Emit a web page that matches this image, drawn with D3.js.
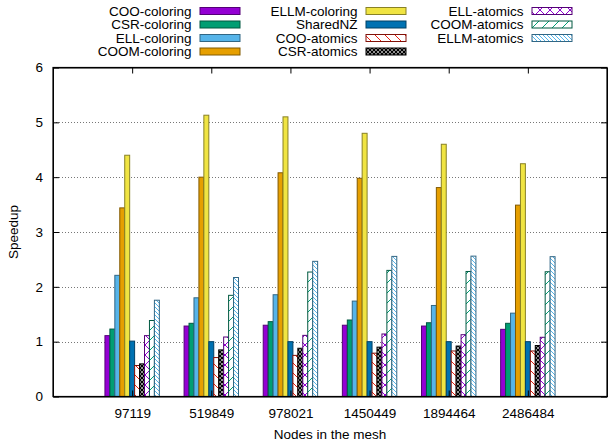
<!DOCTYPE html>
<html>
<head>
<meta charset="utf-8">
<script src="https://cdn.jsdelivr.net/npm/d3@7"></script>
<style>
  body { margin: 0; background: #fff; }
  text { font-family: "Liberation Sans", Arial, sans-serif; }
</style>
</head>
<body>
<div id="chart"></div>
<script>
// data
var groups = ["97119", "519849", "978021", "1450449", "1894464", "2486484"];
var seriesNames = ["COO-coloring", "CSR-coloring", "ELL-coloring", "COOM-coloring", "ELLM-coloring",
  "SharedNZ", "COO-atomics", "CSR-atomics", "ELL-atomics", "COOM-atomics", "ELLM-atomics"];
var seriesColors = ["#9400d3", "#009e73", "#56b4e9", "#e69f00", "#f0e442",
  "#0072b2", "#e51e10", "#000000", "#9400d3", "#009e73", "#56b4e9"];
// fill style per series: solid or a pattern id
var seriesFill = ["solid", "solid", "solid", "solid", "solid",
  "solid", "sparseBack", "denseCross", "cross", "sparseFwd", "denseBack"];

var cooColoring = [1.11, 1.285, 1.30, 1.30, 1.285, 1.225];
var csrColoring = [1.23, 1.335, 1.365, 1.395, 1.345, 1.335];
var ellColoring = [2.21, 1.80, 1.856, 1.74, 1.66, 1.52];
var coomColoring = [3.44, 4.0, 4.08, 3.98, 3.81, 3.49];
var ellmColoring = [4.40, 5.13, 5.10, 4.80, 4.60, 4.245];
var sharedNZ = [1.01, 1.0, 1.0, 1.0, 1.0, 1.0];
var cooAtomics = [0.565, 0.71, 0.75, 0.79, 0.83, 0.83];
var csrAtomics = [0.595, 0.85, 0.88, 0.90, 0.92, 0.93];
var ellAtomics = [1.11, 1.085, 1.115, 1.14, 1.127, 1.08];
var coomAtomics = [1.386, 1.845, 2.27, 2.30, 2.28, 2.275];
var ellmAtomics = [1.756, 2.17, 2.465, 2.555, 2.56, 2.55];

var allValues = [cooColoring, csrColoring, ellColoring, coomColoring, ellmColoring, sharedNZ,
  cooAtomics, csrAtomics, ellAtomics, coomAtomics, ellmAtomics];

var yTicks = [0, 1, 2, 3, 4, 5, 6];

// dimensions (plot frame)
var W = 608, H = 444;
var plotL = 53, plotR = 607, plotT = 67.5, plotB = 396.5;

var svg = d3.select("#chart").append("svg")
  .attr("width", W).attr("height", H);

// patterns
var defs = svg.append("defs");
function makePattern(id, size, color, paths, sw) {
  var p = defs.append("pattern")
    .attr("id", id)
    .attr("patternUnits", "userSpaceOnUse")
    .attr("width", size).attr("height", size);
  p.append("rect").attr("width", size).attr("height", size).attr("fill", "#fff");
  paths.forEach(function (d) {
    p.append("path").attr("d", d).attr("stroke", color).attr("stroke-width", sw).attr("fill", "none");
  });
}
makePattern("sparseBack", 10, "#e51e10", ["M0,0L10,10", "M-5,5L5,15", "M5,-5L15,5"], 1);
makePattern("sparseFwd", 10, "#009e73", ["M0,10L10,0", "M-5,5L5,-5", "M5,15L15,5"], 1);
makePattern("denseBack", 4, "#56b4e9", ["M0,0L4,4", "M-2,2L2,6", "M2,-2L6,2"], 1);
makePattern("cross", 10, "#9400d3", ["M0,0L10,10", "M0,10L10,0"], 1);
makePattern("denseCross", 4, "#000", ["M0,0L4,4", "M0,4L4,0"], 1.3);

function fillOf(i) {
  return seriesFill[i] === "solid" ? seriesColors[i] : "url(#" + seriesFill[i] + ")";
}
function borderOf(i) {
  return d3.color(seriesColors[i]).darker(1.6).formatHex();
}

var x = d3.scaleLinear().domain([-1, 6]).range([plotL, plotR]);
var y = d3.scaleLinear().domain([0, 6]).range([plotB, plotT]);

var nSeries = seriesNames.length;
var barW = 1 / 16; // gnuplot clustered histogram, gap 5

// grid lines
svg.append("g")
  .selectAll("line")
  .data(yTicks.slice(1, -1))
  .enter()
  .append("line")
  .attr("x1", plotL).attr("x2", plotR)
  .attr("y1", function (d) { return Math.round(y(d)) + 0.5; })
  .attr("y2", function (d) { return Math.round(y(d)) + 0.5; })
  .attr("stroke", "#777")
  .attr("stroke-width", 1)
  .attr("stroke-dasharray", "1,2");

// bars
allValues.forEach(function (vals, s) {
  svg.append("g")
    .selectAll("rect")
    .data(vals)
    .enter()
    .append("rect")
    .attr("x", function (d, g) { return x(g - nSeries * barW / 2 + s * barW); })
    .attr("width", x(barW) - x(0))
    .attr("y", function (d) { return y(d); })
    .attr("height", function (d) { return y(0) - y(d); })
    .attr("fill", fillOf(s))
    .attr("stroke", borderOf(s))
    .attr("stroke-width", 1);
});

// axes
svg.append("g")
  .attr("transform", "translate(" + plotL + ",0)")
  .call(d3.axisLeft(y).tickValues(yTicks).tickFormat(d3.format("d")).tickSizeInner(-6).tickSizeOuter(0).tickPadding(10));
svg.append("g")
  .attr("transform", "translate(" + plotR + ",0)")
  .call(d3.axisRight(y).tickValues(yTicks).tickFormat("").tickSizeInner(-6).tickSizeOuter(0));
svg.append("g")
  .attr("transform", "translate(0," + plotB + ")")
  .call(d3.axisBottom(x).tickValues(d3.range(groups.length)).tickFormat(function (d) { return groups[d]; })
    .tickSizeInner(-6).tickSizeOuter(0).tickPadding(12));
svg.append("g")
  .attr("transform", "translate(0," + plotT + ")")
  .call(d3.axisTop(x).tickValues(d3.range(groups.length)).tickFormat("").tickSizeInner(-6).tickSizeOuter(0));

svg.selectAll(".tick text")
  .style("font-family", "Liberation Sans, Arial, sans-serif")
  .style("font-size", "13.5px")
  .attr("fill", "#000");
svg.selectAll(".domain").attr("stroke", "#000");

// frame
svg.append("rect")
  .attr("x", plotL).attr("y", plotT)
  .attr("width", plotR - plotL).attr("height", plotB - plotT)
  .attr("fill", "none").attr("stroke", "#000").attr("stroke-width", 1.2);

// axis titles
svg.append("text")
  .attr("x", (plotL + plotR) / 2).attr("y", 439)
  .attr("text-anchor", "middle")
  .style("font-size", "13.5px")
  .text("Nodes in the mesh");
svg.append("text")
  .attr("transform", "translate(18," + ((plotT + plotB) / 2) + ")rotate(-90)")
  .attr("text-anchor", "middle")
  .style("font-size", "13.5px")
  .text("Speedup");

// legend, filled column by column
var legend = svg.append("g");
seriesNames.forEach(function (name, i) {
  var col = Math.floor(i / 4), row = i % 4;
  var sx = 200 + col * 166, cy = 11 + row * 13.5;
  legend.append("text")
    .attr("x", sx - 8.5).attr("y", cy)
    .attr("dy", "0.35em")
    .attr("text-anchor", "end")
    .style("font-size", "13.5px")
    .text(name);
  legend.append("rect")
    .attr("x", sx).attr("y", cy - 3.5)
    .attr("width", 40).attr("height", 7)
    .attr("fill", fillOf(i))
    .attr("stroke", borderOf(i))
    .attr("stroke-width", 1);
});
</script>
</body>
</html>
